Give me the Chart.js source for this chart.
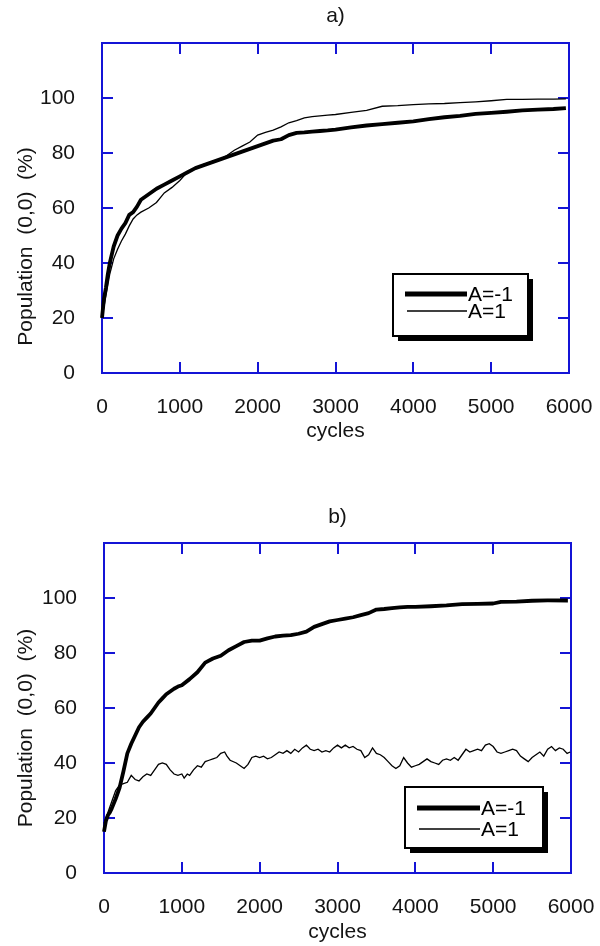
<!DOCTYPE html>
<html><head><meta charset="utf-8">
<script src="https://cdn.jsdelivr.net/npm/chart.js@4.4.1/dist/chart.umd.min.js"></script>
<style>
html,body{margin:0;padding:0;background:#fff;}
#wa{position:absolute;left:0;top:0;width:600px;height:470px;}
#wb{position:absolute;left:0;top:470px;width:600px;height:476px;}
</style></head><body>
<div id="wa"><canvas id="ca" width="600" height="470"></canvas></div>
<div id="wb"><canvas id="cb" width="600" height="476"></canvas></div>
<script>
// ---- tick labels ----
const xTickLabels = [0, 1000, 2000, 3000, 4000, 5000, 6000];
const yTickLabels = [0, 20, 40, 60, 80, 100];
const xTickMarks = [0, 1000, 2000, 3000, 4000, 5000, 6000];
const yTickMarks = [0, 20, 40, 60, 80, 100, 120];
const seriesNames = ['A=-1', 'A=1'];

// ---- panel a) ----
const aCycles = [0,25,50,75,100,150,200,250,300,350,400,450,500,600,700,800,900,1000,1100,1200,1300,1400,1500,1600,1700,1800,1900,2000,2100,2200,2300,2400,2500,2600,2700,2800,2900,3000,3200,3400,3600,3800,4000,4200,4400,4600,4800,5000,5200,5400,5600,5800,5960];
const aNeg = [20,27,31,36,40,46,50,52.5,54.5,57.5,58.5,60.5,63,65,67,68.5,70,71.5,73,74.5,75.5,76.5,77.5,78.5,79.5,80.5,81.5,82.5,83.5,84.5,85,86.5,87.3,87.5,87.8,88,88.2,88.5,89.3,90,90.5,91,91.5,92.3,93,93.5,94.2,94.6,95,95.5,95.8,96,96.3];
const aPos = [20,24,28,32,36,41.5,45,48,50.5,53.5,56,57.5,58.5,60,62,65.5,67.5,70,73.2,74.5,75.8,76.8,77.5,79,81,82.5,84,86.5,87.5,88.3,89.5,91,91.8,92.8,93.2,93.5,93.8,94,94.8,95.5,97,97.2,97.6,97.9,98,98.3,98.6,99,99.5,99.5,99.6,99.6,99.7];

// ---- panel b) ----
const bNegCycles = [0,25,50,75,100,150,200,250,300,350,400,450,500,550,600,650,700,750,800,850,900,950,1000,1100,1200,1300,1400,1500,1600,1700,1800,1900,2000,2100,2200,2300,2400,2500,2600,2700,2800,2900,3000,3100,3200,3300,3400,3500,3600,3700,3800,3900,4000,4200,4400,4600,4800,5000,5100,5300,5500,5700,5960];
const bNeg = [15,19,21,22,23.5,27,31,37,43.5,47,50,53,55,56.5,58,60,62,63.5,65,66,67,67.8,68.3,70.5,73,76.5,78,79,81,82.5,84,84.5,84.5,85.3,86,86.3,86.5,87,87.8,89.5,90.5,91.5,92,92.5,93,93.8,94.5,95.8,96,96.3,96.6,96.8,96.8,97,97.3,97.8,97.9,98,98.6,98.7,99,99.1,99.1];
const bPosCycles = [0,50,100,150,200,250,300,350,400,450,500,550,600,650,700,750,800,850,900,950,1000,1030,1070,1100,1150,1200,1250,1300,1350,1400,1450,1500,1550,1580,1620,1700,1750,1800,1850,1900,1950,2000,2050,2100,2150,2200,2250,2300,2350,2400,2450,2500,2550,2600,2650,2700,2750,2800,2850,2900,2950,3000,3050,3100,3150,3200,3250,3300,3350,3400,3450,3500,3550,3600,3650,3700,3750,3800,3850,3900,3950,4000,4050,4100,4150,4200,4250,4300,4350,4400,4450,4500,4550,4600,4650,4700,4750,4800,4850,4900,4950,5000,5050,5100,5150,5200,5250,5300,5350,5400,5450,5500,5550,5600,5650,5700,5750,5800,5850,5900,5950,5990];
const bPos = [18,22,26,30,32,32.5,33,35.5,34,33.5,35,36,35.5,37.5,39.5,40,39.5,37.5,36,35.5,36,34.5,36,35.5,37.5,39,38.5,40.5,41,41.5,42,43.5,44,42.5,41,40,39,38,39.5,42,42.5,42,42.5,41.5,42,43,44,43.5,44.5,43.5,45,44,45.5,46.5,45,44.5,45,44,44.5,44,45.5,46.5,45.5,46.5,45.5,46,45,44.5,42,43,45.5,43.5,43,42,40.5,39,38,39,42,40,38.5,39,39.5,40.5,41.5,40.5,40,39.5,41,41.5,41,42,41,43,45,44,44.5,45,44.5,46.5,47,46,44,43.5,44,44.5,45,44.5,42.5,41.5,40.5,42,43,44,42.5,45,46,44.5,45.5,45,43.5,44];

const FONT = 'Liberation Sans';
const FS = 21;
const TXT = '#141414';
const BLUE = '#1414d6';

function pts(xs, ys) { return xs.map((x, i) => ({ x: x, y: ys[i] })); }

const framePlugin = {
  id: 'frame',
  beforeDatasetsDraw(chart) {
    const ctx = chart.ctx, a = chart.chartArea;
    const xs = chart.scales.x, ys = chart.scales.y;
    const len = 11;
    ctx.save();
    ctx.strokeStyle = BLUE;
    ctx.lineWidth = 2;
    ctx.strokeRect(a.left, a.top, a.right - a.left, a.bottom - a.top);
    ctx.beginPath();
    xTickMarks.forEach(v => {
      const p = Math.round(xs.getPixelForValue(v));
      ctx.moveTo(p, a.bottom); ctx.lineTo(p, a.bottom - len);
      ctx.moveTo(p, a.top); ctx.lineTo(p, a.top + len);
    });
    yTickMarks.forEach(v => {
      const p = Math.round(ys.getPixelForValue(v));
      ctx.moveTo(a.left, p); ctx.lineTo(a.left + len, p);
      ctx.moveTo(a.right, p); ctx.lineTo(a.right - len, p);
    });
    ctx.stroke();
    ctx.restore();
  }
};

const decorPlugin = {
  id: 'decor',
  afterDraw(chart, args, o) {
    const ctx = chart.ctx;
    // y-axis title
    ctx.save();
    ctx.font = FS + 'px "' + FONT + '"';
    ctx.fillStyle = TXT;
    ctx.textAlign = 'center';
    ctx.textBaseline = 'middle';
    ctx.translate(o.yTitleX, chart.scales.y.getPixelForValue(o.yTitleAt));
    ctx.rotate(-Math.PI / 2);
    ctx.fillText('Population  (0,0)  (%)', 0, 0);
    ctx.restore();
    // legend box
    const b = o.box;
    ctx.save();
    ctx.fillStyle = '#000';
    ctx.fillRect(b.x + 5, b.y + 5, b.w, b.h);
    ctx.fillStyle = '#fff';
    ctx.fillRect(b.x, b.y, b.w, b.h);
    ctx.strokeStyle = '#000';
    ctx.lineWidth = 2;
    ctx.strokeRect(b.x, b.y, b.w, b.h);
    const ds = chart.data.datasets;
    ctx.font = FS + 'px "' + FONT + '"';
    ctx.fillStyle = '#000';
    ctx.textAlign = 'left';
    ctx.textBaseline = 'middle';
    ds.forEach((d, i) => {
      const y = b.y + o.rows[i];
      ctx.beginPath();
      ctx.lineWidth = i === 0 ? 5 : 1.4;
      ctx.strokeStyle = '#000';
      ctx.moveTo(b.x + o.lineX0[i], y);
      ctx.lineTo(b.x + o.lineX1, y);
      ctx.stroke();
      ctx.fillText(d.label, b.x + o.lineX1 + 1, y + 1);
    });
    ctx.restore();
  }
};

function makeChart(id, title, negPts, posPts, L) {
  const font = { family: FONT, size: FS };
  return new Chart(document.getElementById(id), {
    type: 'line',
    data: {
      datasets: [
        { label: seriesNames[0], data: negPts, borderColor: '#000', borderWidth: 3.8, pointRadius: 0, tension: 0, clip: false, borderJoinStyle: 'round' },
        { label: seriesNames[1], data: posPts, borderColor: '#000', borderWidth: 1.3, pointRadius: 0, tension: 0, clip: false }
      ]
    },
    options: {
      responsive: false, animation: false, devicePixelRatio: 1,
      layout: { padding: 0 },
      plugins: { legend: { display: false }, tooltip: { enabled: false }, title: { display: false },
        decor: L.decor },
      scales: {
        x: { type: 'linear', position: 'bottom', min: 0, max: 6000,
          afterBuildTicks: s => { s.ticks = xTickLabels.map(v => ({ value: v })); },
          afterFit: s => { s.height = L.bottomH; s.paddingLeft = 0; s.paddingRight = 0; },
          grid: { display: false }, border: { display: false },
          ticks: { padding: L.xPad, font: font, color: TXT, maxRotation: 0, autoSkip: false, callback: v => String(v) },
          title: { display: true, text: 'cycles', font: font, color: TXT, padding: { top: 0, bottom: L.cyclesPad } } },
        x2: { type: 'linear', position: 'top', min: 0, max: 6000,
          afterFit: s => { s.height = L.topH; s.paddingLeft = 0; s.paddingRight = 0; },
          grid: { display: false }, border: { display: false }, ticks: { display: false },
          title: { display: true, text: title, font: font, color: TXT, padding: { top: L.titlePad, bottom: 0 } } },
        y: { type: 'linear', position: 'left', min: 0, max: 120,
          afterBuildTicks: s => { s.ticks = yTickLabels.map(v => ({ value: v })); },
          afterFit: s => { s.width = L.leftW; s.paddingTop = 0; s.paddingBottom = 0; },
          grid: { display: false }, border: { display: false },
          ticks: { padding: 19, font: font, color: TXT, callback: v => String(v) } },
        y2: { type: 'linear', position: 'right', min: 0, max: 120,
          afterFit: s => { s.width = L.rightW; s.paddingTop = 0; s.paddingBottom = 0; },
          grid: { display: false }, border: { display: false }, ticks: { display: false } }
      }
    },
    plugins: [framePlugin, decorPlugin]
  });
}

makeChart('ca', 'a)', pts(aCycles, aNeg), pts(aCycles, aPos), {
  topH: 43, bottomH: 97, leftW: 102, rightW: 31, xPad: 14, cyclesPad: 26, titlePad: 4,
  decor: { yTitleX: 26, yTitleAt: 46, box: { x: 393, y: 274, w: 135, h: 62 }, rows: [20, 37], lineX0: [12, 14], lineX1: 74 }
});
makeChart('cb', 'b)', pts(bNegCycles, bNeg), pts(bPosCycles, bPos), {
  topH: 73, bottomH: 73, leftW: 104, rightW: 29, xPad: 14, cyclesPad: 1, titlePad: 35,
  decor: { yTitleX: 26, yTitleAt: 52.7, box: { x: 405, y: 317, w: 138, h: 61 }, rows: [21, 42], lineX0: [12, 14], lineX1: 75 }
});
</script>
</body></html>
